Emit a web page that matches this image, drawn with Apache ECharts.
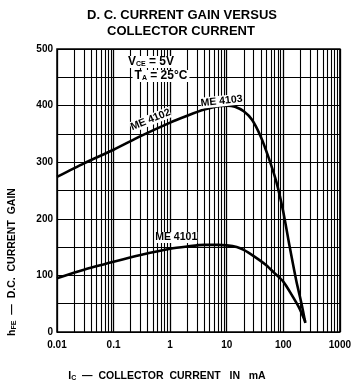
<!DOCTYPE html>
<html><head><meta charset="utf-8">
<script src="https://cdn.jsdelivr.net/npm/echarts@6/dist/echarts.min.js"></script>
<style>html,body{margin:0;padding:0;background:#fff}#c{width:354px;height:387px}</style>
</head><body><div id="c"></div>
<script>
// Data
const xTickLabels = ['0.01', '0.1', '1', '10', '100', '1000'];
const yTickLabels = ['0', '100', '200', '300', '400', '500'];
const upperX = [0.01, 0.03, 0.1, 0.3, 1, 2, 4, 7, 10, 14, 20, 28, 40, 55, 75, 100, 130, 170, 210, 245];
const upperY = [274, 298, 322, 346, 370, 382, 393, 399, 400, 398, 390, 375, 345, 308, 266, 212, 150, 90, 50, 16];
const lowerX = [0.01, 0.03, 0.1, 0.3, 1, 2, 4, 7, 10, 15, 20, 30, 50, 70, 100, 140, 190, 245];
const lowerY = [95, 110, 124, 136, 147, 151, 154, 154, 153, 150, 145, 134, 118, 104, 89, 66, 43, 18];
const minorMultipliers = [2, 3, 4, 5, 6, 7, 8, 9];
const decades = [0.01, 0.1, 1, 10, 100];

const minorLines = [];
decades.forEach(d => minorMultipliers.forEach(m => minorLines.push({ xAxis: +(d * m).toPrecision(3) })));

const F = 'Liberation Sans, Arial, sans-serif';
const chart = echarts.init(document.getElementById('c'));
chart.setOption({
  animation: false,
  backgroundColor: '#fff',
  grid: { left: 57, right: 10, top: 49, bottom: 55, show: true, borderColor: '#000', borderWidth: 1.5 },
  xAxis: {
    type: 'log', logBase: 10, min: 0.01, max: 1000,
    axisLine: { show: false }, axisTick: { show: false },
    splitLine: { show: true, lineStyle: { color: '#000', width: 1.3 } },
    axisLabel: {
      color: '#000', fontFamily: F, fontWeight: 'bold', fontSize: 10, margin: 8,
      formatter: v => xTickLabels[Math.round(Math.log10(v)) + 2]
    }
  },
  yAxis: {
    type: 'value', min: 0, max: 500, interval: 50,
    axisLine: { show: false }, axisTick: { show: false },
    splitLine: { show: true, lineStyle: { color: '#000', width: 1.2 } },
    axisLabel: {
      color: '#000', fontFamily: F, fontWeight: 'bold', fontSize: 10, margin: 4,
      formatter: v => (v % 100 === 0 ? yTickLabels[v / 100] : '')
    }
  },
  series: [
    {
      type: 'line', data: [], silent: true,
      markLine: { silent: true, symbol: 'none', label: { show: false },
        lineStyle: { color: '#000', width: 1.1, type: 'solid' }, data: minorLines }
    },
    {
      type: 'line', smooth: 0.25, showSymbol: false,
      data: upperX.map((x, i) => [x, upperY[i]]),
      lineStyle: { color: '#000', width: 2.6 },
      markPoint: {
        symbol: 'circle', symbolSize: 0,
        label: { show: true, color: '#000', fontFamily: F, fontWeight: 'bold', fontSize: 10.5 },
        data: [
          { coord: [0.45, 375], label: { formatter: 'ME 4102', rotate: 22, backgroundColor: '#fff' } },
          { coord: [8.1, 408], label: { formatter: 'ME 4103', rotate: 6, backgroundColor: '#fff' } }
        ]
      }
    },
    {
      type: 'line', smooth: 0.25, showSymbol: false,
      data: lowerX.map((x, i) => [x, lowerY[i]]),
      lineStyle: { color: '#000', width: 2.6 },
      markPoint: {
        symbol: 'circle', symbolSize: 0,
        label: { show: true, color: '#000', fontFamily: F, fontWeight: 'bold', fontSize: 10.5 },
        data: [{ coord: [1.28, 167], label: { formatter: 'ME 4101', backgroundColor: '#fff' } }]
      }
    }
  ],
  graphic: [
    { type: 'text', x: 182, y: 15, style: { text: 'D. C. CURRENT GAIN VERSUS', fill: '#000', font: 'bold 13px ' + F, textAlign: 'center', textVerticalAlign: 'middle' } },
    { type: 'text', x: 181, y: 31, style: { text: 'COLLECTOR CURRENT', fill: '#000', font: 'bold 13px ' + F, textAlign: 'center', textVerticalAlign: 'middle' } },
    { type: 'text', x: 151, y: 62, z: 100, style: {
      text: '{b|V}{s|CE}{b| = 5V}', textAlign: 'center', textVerticalAlign: 'middle', backgroundColor: '#fff', padding: [0, 2],
      rich: { b: { font: 'bold 12px ' + F, fill: '#000' }, s: { font: 'bold 7px ' + F, fill: '#000', verticalAlign: 'bottom', padding: [4, 0, 0, 0] } } } },
    { type: 'text', x: 161, y: 76, z: 100, style: {
      text: '{b|T}{s|A}{b| = 25°C}', textAlign: 'center', textVerticalAlign: 'middle', backgroundColor: '#fff', padding: [0, 2],
      rich: { b: { font: 'bold 12px ' + F, fill: '#000' }, s: { font: 'bold 7px ' + F, fill: '#000', verticalAlign: 'bottom', padding: [4, 0, 0, 0] } } } },
    { type: 'text', x: 12, y: 262, rotation: Math.PI / 2, style: {
      text: '{b|h}{s|FE}{b|  —  D.C.  CURRENT  GAIN}', textAlign: 'center', textVerticalAlign: 'middle',
      rich: { b: { font: 'bold 10.5px ' + F, fill: '#000' }, s: { font: 'bold 7px ' + F, fill: '#000', padding: [4, 0, 0, 0] } } } },
    { type: 'text', x: 167, y: 376, style: {
      text: '{b|I}{s|C}{b|  —  COLLECTOR  CURRENT   IN   mA}', textAlign: 'center', textVerticalAlign: 'middle',
      rich: { b: { font: 'bold 10.5px ' + F, fill: '#000' }, s: { font: 'bold 7px ' + F, fill: '#000', padding: [4, 0, 0, 0] } } } }
  ]
});
</script></body></html>
